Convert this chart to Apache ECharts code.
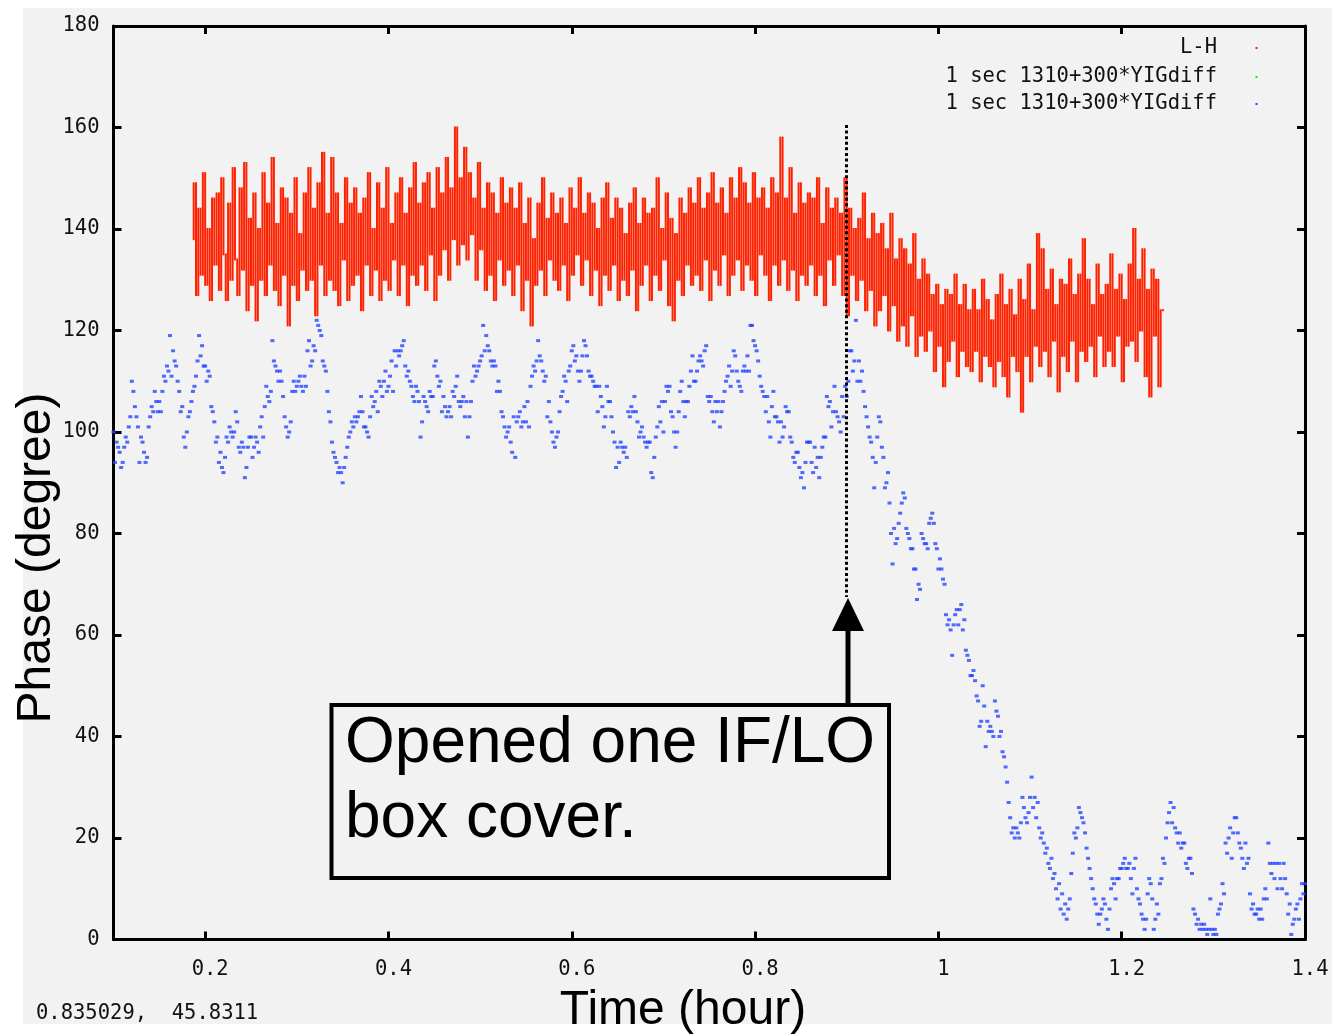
<!DOCTYPE html>
<html>
<head>
<meta charset="utf-8">
<script src="https://cdn.jsdelivr.net/npm/echarts@6/dist/echarts.min.js"></script>
<style>
html,body{margin:0;padding:0;background:#ffffff;}
#bg{position:absolute;left:23px;top:8px;width:1309px;height:1016px;background:#f2f2f2;}
#chart{position:absolute;left:0;top:0;width:1332px;height:1035px;}
</style>
</head>
<body>
<div id="bg"></div>
<div id="chart"></div>
<script>
// ---- data ----
const xTickValues = [0.2, 0.4, 0.6, 0.8, 1, 1.2, 1.4];
const yTickValues = [0, 20, 40, 60, 80, 100, 120, 140, 160, 180];
const legendNames = ['L-H', '1 sec 1310+300*YIGdiff', '1 sec 1310+300*YIGdiff'];
const cursorReadout = '0.835029,  45.8311';
const annotationLines = ['Opened one IF/LO', 'box cover.'];
const eventTime = 0.9;

// L-H phase (degree), sampled from t = 0.1875 h every 0.0025 h
const redStart = 0.1875, redStep = 0.0025;
const redValues = [
138,149,127,144,131,151,129,140,126,146,
133,147,128,150,135,126,145,130,152,134,
127,148,132,153,124,142,129,147,122,140,
130,151,127,145,133,154,128,141,125,148,
131,146,121,143,129,150,126,139,132,147,
128,152,130,144,123,149,133,155,127,143,
130,154,128,147,125,141,134,150,126,145,
129,148,131,143,124,146,133,151,127,140,
132,149,126,144,130,152,128,141,134,147,
127,150,133,143,125,148,131,153,129,145,
133,149,128,151,135,144,126,152,131,147,
136,154,130,148,138,160,133,150,137,156,
134,151,139,146,130,153,136,144,128,149,
131,147,126,143,134,150,129,145,132,148,
127,144,133,149,124,141,130,146,121,138,
129,145,132,150,127,142,134,147,130,143,
128,146,133,141,126,148,131,144,135,150,
129,143,134,147,127,145,132,140,125,146,
131,149,128,142,133,146,126,144,130,139,
127,145,132,148,124,141,129,146,133,143,
126,144,131,150,128,140,134,147,125,142,
122,139,130,146,127,143,133,148,129,145,
131,150,128,144,134,147,126,151,132,145,
129,148,135,143,127,150,131,146,134,152,
128,149,133,145,130,151,127,146,135,148,
131,144,126,150,133,147,129,158,134,146,
128,152,132,143,126,149,131,145,129,147,
133,146,127,150,131,141,125,148,134,144,
129,146,135,143,127,150,123,144,131,140,
126,142,130,147,124,138,128,143,121,139,
124,141,127,136,120,143,125,134,118,138,
121,136,117,133,123,139,115,130,119,134,
116,131,120,127,112,129,117,125,109,128,
114,127,118,131,111,125,116,129,113,124,
112,128,116,124,110,130,115,126,113,122,
109,127,114,131,111,125,107,128,115,123,
112,130,104,126,115,133,110,124,117,139,
113,136,116,128,111,132,118,125,108,130,
115,129,112,134,118,127,110,131,116,138,
114,130,117,125,111,133,119,127,113,129,
116,135,113,128,119,131,110,126,117,133,
118,140,114,130,120,136,111,128,107,132,
119,130,109,124
];

// 1 sec 1310+300*YIGdiff (green) : no visible points
const greenValues = [];

// 1 sec 1310+300*YIGdiff (blue), sampled from t = 0.1 h every 6 s (1/600 h)
const blueStart = 0.1, blueStep = 1 / 600;
const blueValues = [
100,94,98,97,96,93,94,97,99,98,101,103,110,108,105,
103,101,94,99,98,96,94,95,101,103,105,104,108,106,104,
106,104,108,111,110,113,112,119,111,116,114,113,110,108,104,
105,99,97,100,103,104,106,108,109,111,114,119,115,117,113,
113,110,112,111,105,104,102,98,99,94,96,93,92,95,99,
98,101,100,99,100,104,102,97,96,98,97,91,93,97,99,
99,95,97,99,98,96,101,103,99,105,109,107,106,108,118,
114,113,112,110,112,110,107,103,101,99,100,102,108,110,108,
109,110,111,109,108,111,109,116,118,113,114,117,116,122,121,
120,119,114,113,112,108,104,102,98,96,95,94,92,93,92,
90,93,95,97,99,100,102,101,103,102,103,104,107,104,101,
101,100,99,103,107,105,106,108,104,110,109,107,110,112,108,
109,111,114,108,116,113,116,115,116,117,118,113,111,112,110,
109,107,106,109,108,106,99,102,107,106,105,104,108,107,107,
113,114,111,109,110,104,107,105,103,104,105,103,108,107,109,
111,106,105,106,107,103,106,99,103,106,110,113,111,112,113,
114,115,121,116,119,117,116,114,113,114,113,108,110,108,104,
103,101,99,100,101,98,96,103,95,102,103,104,101,102,105,
102,106,101,109,111,113,112,114,118,115,114,112,110,111,103,
106,102,100,98,97,99,100,104,107,108,111,110,106,112,113,
116,117,114,115,112,110,112,115,118,117,115,112,111,111,110,
109,109,104,109,107,105,101,103,109,106,106,103,100,98,93,
97,94,98,97,96,97,95,104,103,105,104,107,104,102,99,
100,101,99,98,97,98,98,92,91,95,99,101,105,102,106,
100,106,109,108,109,104,103,100,97,100,104,108,110,106,103,
106,106,109,112,115,110,110,112,114,115,114,113,116,117,107,
106,107,104,102,106,104,106,101,104,106,108,110,111,113,109,
112,116,115,112,110,109,108,112,113,112,115,112,121,121,118,
117,116,114,111,109,108,107,104,107,102,99,105,108,103,103,
102,98,102,99,101,105,104,104,99,98,95,94,96,96,93,
91,92,89,94,98,98,98,94,92,97,93,95,91,95,97,
99,99,107,105,106,101,104,109,104,103,102,100,107,103,109,
107,110,116,116,112,114,122,110,114,110,112,108,105,103,101,
99,98,95,89,94,99,103,102,97,95,89,90,92,86,80,
74,81,78,79,82,84,86,88,87,81,80,79,77,77,73,
73,67,70,69,80,79,78,78,77,82,83,84,82,78,77,
73,75,73,71,70,64,62,63,61,56,62,64,65,62,65,
66,61,63,57,56,55,52,52,53,51,48,47,42,43,50,
46,38,43,41,42,41,40,47,45,44,40,41,37,36,34,
31,27,24,21,22,20,22,21,20,23,28,26,24,23,25,
28,32,26,28,24,27,22,20,21,19,17,18,15,14,16,
12,13,10,8,11,6,9,5,7,4,6,8,13,17,21,
20,22,26,25,24,23,21,18,16,14,12,10,8,7,5,
3,5,6,8,7,4,2,6,10,12,11,8,12,12,14,
14,15,16,14,14,15,12,9,14,16,10,8,7,5,4,
2,4,9,12,11,8,2,4,7,5,11,12,16,15,20,
23,25,27,23,26,22,21,19,21,18,19,19,15,14,16,
16,13,6,5,3,4,2,3,2,3,2,1,2,8,2,
1,2,1,5,6,7,11,9,19,17,20,22,16,21,24,
24,21,19,18,16,14,19,15,16,9,6,7,5,5,6,
4,6,4,8,10,8,19,15,13,15,12,15,10,15,12,
10,15,12,9,5,7,1,3,4,6,7,4,8,11,9,
11
];

// ---- build ----
// red: each sample is drawn as a vertical streak from its value to the next sample's value
const redData = redValues.map((v, i) => [
  +(redStart + i * redStep).toFixed(5), v,
  i + 1 < redValues.length ? redValues[i + 1] : v
]);
const blueData = blueValues.map((v, i) => [+(blueStart + i * blueStep).toFixed(5), v]);
const greenData = greenValues;

const MONO = '"DejaVu Sans Mono", "Liberation Mono", monospace';
const SANS = '"Liberation Sans", Arial, sans-serif';
const INK = '#111';
const MONO_SIZE = 20.5;
const RED = '#ff2200', GREEN = '#22dd22', BLUE = '#2645ff';

const chart = echarts.init(document.getElementById('chart'), null, {renderer: 'canvas'});

function xAxisDef(pos, showLabel) {
  return {
    type: 'value', position: pos, min: 0.1, max: 1.4,
    axisLine: {show: true, onZero: false, lineStyle: {color: '#000', width: 3}},
    axisTick: {show: true, inside: true, length: 8, customValues: xTickValues, lineStyle: {color: '#000', width: 3}},
    axisLabel: {show: showLabel, customValues: xTickValues, margin: 20,
      fontFamily: MONO, fontSize: MONO_SIZE, color: INK, padding: [0, 0, 0, 10],
      formatter: v => String(+(+v).toFixed(1))},
    splitLine: {show: false}
  };
}
function yAxisDef(pos, showLabel) {
  return {
    type: 'value', position: pos, min: 0, max: 180, interval: 20,
    axisLine: {show: true, onZero: false, lineStyle: {color: '#000', width: 3}},
    axisTick: {show: true, inside: true, length: 8, lineStyle: {color: '#000', width: 3}},
    axisLabel: {show: showLabel, margin: 14, fontFamily: MONO, fontSize: MONO_SIZE, color: INK},
    splitLine: {show: false}
  };
}

const legendGraphics = [];
const legendColors = [RED, GREEN, BLUE];
const legendY = [48, 77, 104];
legendNames.forEach((name, i) => {
  legendGraphics.push({type: 'text', x: 1217, y: legendY[i], z: 50,
    style: {text: name, fill: INK, font: MONO_SIZE + 'px ' + MONO, textAlign: 'right', textVerticalAlign: 'middle'}});
  legendGraphics.push({type: 'rect', x: 1255.5, y: legendY[i] - 1, z: 50,
    shape: {width: 2, height: 2}, style: {fill: legendColors[i]}});
});

const option = {
  backgroundColor: 'transparent',
  animation: false,
  grid: {left: 113.5, right: 27, top: 26, bottom: 95.5, containLabel: false},
  xAxis: [xAxisDef('bottom', true), xAxisDef('top', false)],
  yAxis: [yAxisDef('left', true), yAxisDef('right', false)],
  series: [
    {
      name: legendNames[0], type: 'custom', data: redData, xAxisIndex: 0, yAxisIndex: 0,
      encode: {x: 0, y: [1, 2]}, z: 2, silent: true,
      renderItem: (params, api) => {
        const a = api.coord([api.value(0), api.value(1)]);
        const b = api.coord([api.value(0), api.value(2)]);
        const y1 = Math.min(a[1], b[1]) - 1, y2 = Math.max(a[1], b[1]) + 1;
        return {type: 'line', shape: {x1: a[0], y1: y1, x2: a[0], y2: y2},
          style: {stroke: RED, lineWidth: 2}};
      }
    },
    {
      name: legendNames[1], type: 'scatter', data: greenData, symbolSize: 2,
      itemStyle: {color: GREEN}, z: 3
    },
    {
      name: legendNames[2], type: 'scatter', data: blueData, symbol: 'rect', symbolSize: [4, 3],
      itemStyle: {color: BLUE}, z: 4,
      markLine: {
        silent: true, symbol: 'none', animation: false,
        label: {show: false},
        lineStyle: {color: '#000', width: 3, type: [3, 2.6], cap: 'butt'},
        data: [[{coord: [eventTime, 160.5]}, {coord: [eventTime, 67.5]}]]
      }
    }
  ],
  graphic: [
    // axis titles
    {type: 'text', x: 683, y: 1011, z: 50,
      style: {text: 'Time (hour)', fill: '#000', font: '48px ' + SANS, textAlign: 'center', textVerticalAlign: 'middle'}},
    {type: 'text', x: 37, y: 558, rotation: Math.PI / 2, z: 50,
      style: {text: 'Phase (degree)', fill: '#000', font: '48px ' + SANS, textAlign: 'center', textVerticalAlign: 'middle'}},
    // cursor readout
    {type: 'text', x: 36, y: 1014, z: 50,
      style: {text: cursorReadout, fill: INK, font: MONO_SIZE + 'px ' + MONO, textAlign: 'left', textVerticalAlign: 'middle'}},
    // annotation box
    {type: 'rect', x: 331.5, y: 705, z: 60, shape: {width: 557.5, height: 173},
      style: {fill: '#f2f2f2', stroke: '#000', lineWidth: 4}},
    {type: 'text', x: 345, y: 744, z: 61,
      style: {text: annotationLines[0], fill: '#000', font: '64px ' + SANS, textAlign: 'left', textVerticalAlign: 'middle'}},
    {type: 'text', x: 345, y: 819, z: 61,
      style: {text: annotationLines[1], fill: '#000', font: '64px ' + SANS, textAlign: 'left', textVerticalAlign: 'middle'}},
    // arrow
    {type: 'line', z: 60, shape: {x1: 848, y1: 703, x2: 848, y2: 628}, style: {stroke: '#000', lineWidth: 5}},
    {type: 'polygon', z: 60, shape: {points: [[848, 598], [832, 631], [864, 631]]}, style: {fill: '#000'}}
  ].concat(legendGraphics)
};
chart.setOption(option);
</script>
</body>
</html>
